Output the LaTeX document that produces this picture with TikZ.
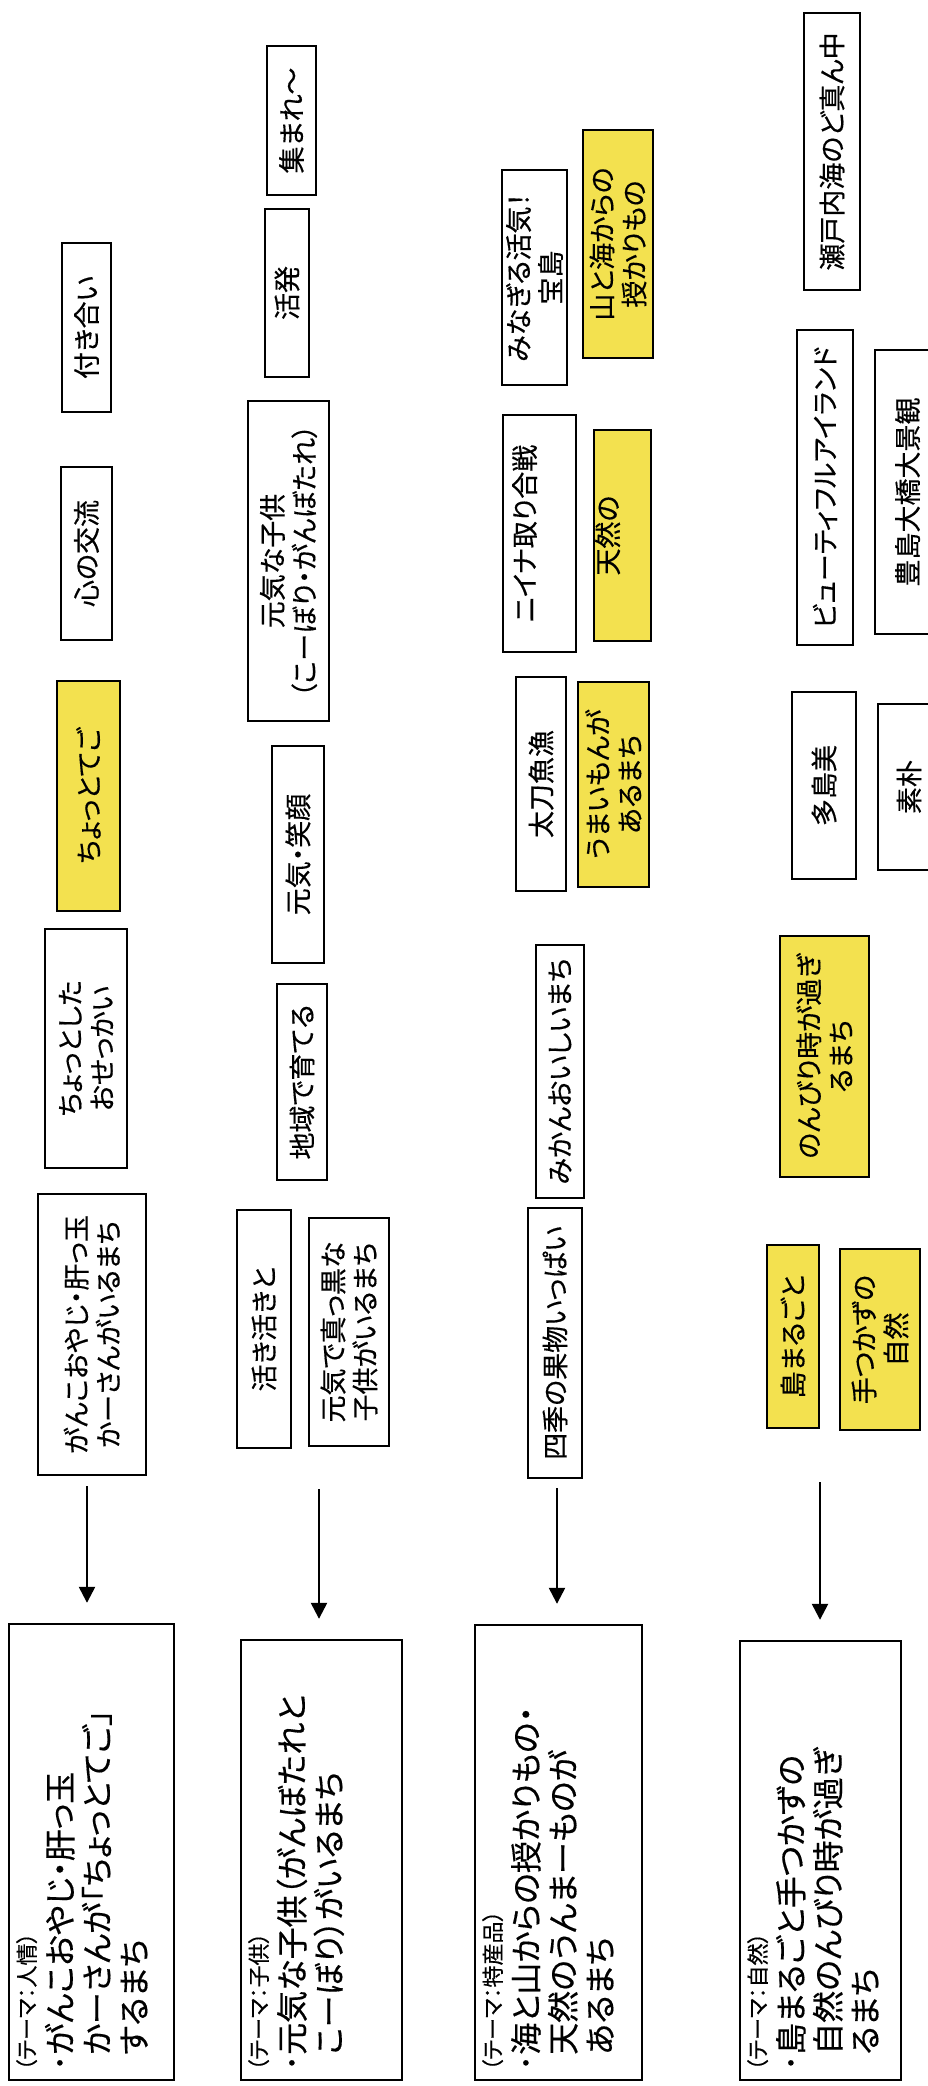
\documentclass[tikz,border=0pt]{standalone}
\usepackage{fontspec}
\setmainfont{Noto Sans CJK JP}[RawFeature=+palt, FakeBold=0.4]
\usetikzlibrary{arrows.meta}
\definecolor{keyyellow}{HTML}{F3E14F}

\tikzset{
  kbox/.style={draw, line width=1.2pt, rotate=90, inner sep=0pt, align=center,
    font=\fontsize{13.5}{16}\selectfont},
  ybox/.style={kbox, fill=keyyellow},
  tbox/.style={draw, line width=1.2pt, rotate=90, inner sep=0pt},
  ttext/.style={rotate=90, anchor=north west, align=left, inner sep=0pt,
    font=\fontsize{16}{18.5}\selectfont},
  boxsize/.style 2 args={minimum width=#1*0.5pt, minimum height=#2*0.5pt},
  arr/.style={line width=1.2pt, -{Triangle[width=8pt,length=8pt]}, shorten >=10pt}
}
\newcommand{\thm}[1]{{\fontsize{11}{13}\selectfont （テーマ：#1）}}

\begin{document}
\begin{tikzpicture}[x=0.5pt, y=-0.5pt]
\useasboundingbox (0,0) rectangle (927,2086);

% Theme boxes
    \node[tbox, boxsize={456}{165}] (t1) at (91.5,1852) {};
    \node[ttext] (t1txt) at ([shift={(8,-10)}]t1.north west)
        {\thm{人情}\\･がんこおやじ・肝っ玉\\\hspace*{0.5em}かーさんが「ちょっとてご」\\\hspace*{0.5em}するまち};
    \node[tbox, boxsize={440}{161}] (t2) at (321.5,1860) {};
    \node[ttext] (t2txt) at ([shift={(8,-10)}]t2.north west)
        {\thm{子供}\\･元気な子供（がんぼたれと\\\hspace*{0.5em}こーぼり）がいるまち};
    \node[tbox, boxsize={455}{167}] (t3) at (558.5,1852.5) {};
    \node[ttext] (t3txt) at ([shift={(8,-10)}]t3.north west)
        {\thm{特産品}\\･海と山からの授かりもの・\\\hspace*{0.5em}天然のうんまーものが\\\hspace*{0.5em}あるまち};
    \node[tbox, boxsize={439}{161}] (t4) at (820.5,1860.5) {};
    \node[ttext] (t4txt) at ([shift={(8,-10)}]t4.north west)
        {\thm{自然}\\･島まるごと手つかずの\\\hspace*{0.5em}自然のんびり時が過ぎ\\\hspace*{0.5em}るまち};

% Arrows
    \coordinate (a1) at (87,1486);
    \coordinate (a2) at (319,1489);
    \coordinate (a3) at (557,1488);
    \coordinate (a4) at (820,1482);
    \draw[arr] (a1) -- (a1 |- t1.east);
    \draw[arr] (a2) -- (a2 |- t2.east);
    \draw[arr] (a3) -- (a3 |- t3.east);
    \draw[arr] (a4) -- (a4 |- t4.east);

% Column 1
    \node[kbox, boxsize={281}{108}] (n11) at (92,1334.5) {がんこおやじ・肝っ玉\\かーさんがいるまち};
    \node[kbox, boxsize={239}{82}] (n12) at (86,1048.5) {ちょっとした\\おせっかい};
    \node[ybox, boxsize={230}{63}] (n13) at (88.5,796) {ちょっとてご};
    \node[kbox, boxsize={173}{51}] (n14) at (86.5,553.5) {心の交流};
    \node[kbox, boxsize={169}{49}] (n15) at (86.5,327.5) {付き合い};

% Column 2
    \node[kbox, boxsize={238}{54}] (n21) at (264,1329) {活き活きと};
    \node[kbox, boxsize={228}{80}] (n22) at (349,1332) {元気で真っ黒な\\子供がいるまち};
    \node[kbox, boxsize={196}{50}] (n23) at (302,1082) {地域で育てる};
    \node[kbox, boxsize={217}{52}] (n24) at (298,854.5) {元気・笑顔};
    \node[kbox, boxsize={320}{81}] (n25) at (288.5,561) {元気な子供\\（こーぼり・がんぼたれ）};
    \node[kbox, boxsize={168}{44}] (n26) at (287,293) {活発};
    \node[kbox, boxsize={149}{49}] (n27) at (291.5,120.5) {集まれ～};

% Column 3
    \node[kbox, boxsize={270}{54}] (n31) at (555,1343) {四季の果物いっぱい};
    \node[kbox, boxsize={253}{48}] (n32) at (560,1071.5) {みかんおいしいまち};
    \node[kbox, boxsize={214}{50}] (n33) at (541,784) {太刀魚漁};
    \node[ybox, boxsize={205}{71}] (n34) at (613.5,784.5) {うまいもんが\\あるまち};
    \node[kbox, boxsize={237}{73}] (n35) at (539.5,533.5) {ニイナ取り合戦\\\mbox{}};
    \node[ybox, boxsize={211}{57}] (n36) at (622.5,535.5) {天然の\\\mbox{}};
    \node[kbox, boxsize={215}{65}] (n37) at (534.5,277.5) {みなぎる活気！\\宝島};
    \node[ybox, boxsize={228}{70}] (n38) at (618,244) {山と海からの\\授かりもの};

% Column 4
    \node[ybox, boxsize={183}{52}] (n41) at (793,1336.5) {島まるごと};
    \node[ybox, boxsize={181}{80}] (n42) at (880,1339.5) {手つかずの\\自然};
    \node[ybox, boxsize={241}{89}] (n43) at (824.5,1056.5) {のんびり時が過ぎ\\るまち};
    \node[kbox, boxsize={187}{64}] (n44) at (824,785.5) {多島美};
    \node[kbox, boxsize={166}{62}] (n45) at (909,787) {素朴};
    \node[kbox, boxsize={315}{56}] (n46) at (825,487.5) {ビューティフルアイランド};
    \node[kbox, boxsize={284}{65}] (n47) at (907.5,492) {豊島大橋大景観};
    \node[kbox, boxsize={277}{56}] (n48) at (832,151.5) {瀬戸内海のど真ん中};

\end{tikzpicture}
\end{document}
